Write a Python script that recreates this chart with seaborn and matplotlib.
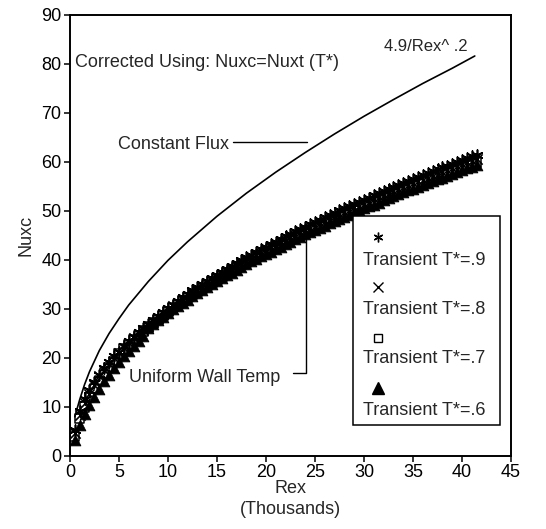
import matplotlib
matplotlib.use("Agg")
import matplotlib.pyplot as plt
import seaborn as sns
import pandas as pd
from matplotlib.patches import Rectangle

sns.set_theme(style="ticks")
plt.rcParams['font.family'] = ['Liberation Sans', 'DejaVu Sans']

# ---- data (Rex in thousands) ----
rex = [0.5, 1.0, 1.5, 2.0, 2.5, 3.0, 3.5, 4.0, 4.5, 5.0, 5.5, 6.0, 6.5, 7.0, 7.5, 8.0,
       8.5, 9.0, 9.5, 10.0, 10.5, 11.0, 11.5, 12.0, 12.5, 13.0, 13.5, 14.0, 14.5, 15.0,
       15.5, 16.0, 16.5, 17.0, 17.5, 18.0, 18.5, 19.0, 19.5, 20.0, 20.5, 21.0, 21.5, 22.0,
       22.5, 23.0, 23.5, 24.0, 24.5, 25.0, 25.5, 26.0, 26.5, 27.0, 27.5, 28.0, 28.5, 29.0,
       29.5, 30.0, 30.5, 31.0, 31.5, 32.0, 32.5, 33.0, 33.5, 34.0, 34.5, 35.0, 35.5, 36.0,
       36.5, 37.0, 37.5, 38.0, 38.5, 39.0, 39.5, 40.0, 40.5, 41.0, 41.5]

nu_t09 = [5.3, 9.2, 11.6, 13.5, 15.1, 16.5, 17.9, 19.1, 20.3, 21.3, 22.4, 23.4, 24.3, 25.3,
          26.1, 27.0, 27.8, 28.6, 29.4, 30.2, 30.9, 31.7, 32.4, 33.1, 33.8, 34.4, 35.1, 35.7,
          36.4, 37.0, 37.6, 38.2, 38.8, 39.4, 39.9, 40.5, 41.1, 41.6, 42.2, 42.7, 43.2, 43.7,
          44.3, 44.8, 45.3, 45.8, 46.3, 46.8, 47.3, 47.7, 48.2, 48.7, 49.1, 49.6, 50.1, 50.5,
          51.0, 51.4, 51.9, 52.3, 52.7, 53.2, 53.6, 54.0, 54.4, 54.8, 55.3, 55.7, 56.1, 56.5,
          56.9, 57.3, 57.7, 58.1, 58.5, 58.9, 59.2, 59.6, 60.0, 60.4, 60.8, 61.1, 61.5]

nu_t08 = [4.6, 8.4, 10.8, 12.7, 14.4, 16.3, 17.6, 18.8, 20.0, 21.0, 22.1, 23.0, 24.0, 24.9,
          25.8, 26.6, 27.4, 28.2, 29.0, 29.7, 30.5, 31.2, 31.9, 32.6, 33.3, 33.9, 34.6, 35.2,
          35.8, 36.4, 37.0, 37.6, 38.2, 38.8, 39.4, 39.9, 40.5, 41.0, 41.5, 42.1, 42.6, 43.1,
          43.6, 44.1, 44.6, 45.1, 45.6, 46.1, 46.6, 47.0, 47.5, 48.0, 48.4, 48.9, 49.3, 49.8,
          50.2, 50.7, 51.1, 51.5, 51.9, 52.4, 52.8, 53.2, 53.6, 54.0, 54.4, 54.9, 55.3, 55.6,
          56.0, 56.4, 56.8, 57.2, 57.6, 58.0, 58.4, 58.7, 59.1, 59.5, 59.9, 60.2, 60.6]

nu_t07 = [4.0, 7.6, 10.0, 12.0, 13.8, 15.4, 16.9, 18.1, 19.3, 20.8, 21.8, 22.8, 23.7, 24.6,
          25.5, 26.3, 27.2, 27.9, 28.7, 29.5, 30.2, 30.9, 31.6, 32.3, 32.9, 33.6, 34.2, 34.8,
          35.5, 36.1, 36.7, 37.3, 37.8, 38.4, 39.0, 39.5, 40.1, 40.6, 41.1, 41.7, 42.2, 42.7,
          43.2, 43.7, 44.2, 44.7, 45.1, 45.6, 46.1, 46.6, 47.0, 47.5, 47.9, 48.4, 48.8, 49.3,
          49.7, 50.2, 50.6, 51.0, 51.4, 51.9, 52.3, 52.7, 53.1, 53.5, 53.9, 54.3, 54.7, 55.1,
          55.5, 55.9, 56.3, 56.7, 57.0, 57.4, 57.8, 58.2, 58.5, 58.9, 59.3, 59.6, 60.0]

nu_t06 = [3.2, 6.3, 8.6, 10.4, 12.1, 13.7, 15.2, 16.6, 17.9, 19.1, 20.3, 21.4, 22.5, 23.5,
          24.5, 26.1, 26.9, 27.7, 28.4, 29.2, 29.9, 30.6, 31.3, 31.9, 32.6, 33.2, 33.9, 34.5,
          35.1, 35.7, 36.3, 36.9, 37.4, 38.0, 38.6, 39.1, 39.7, 40.2, 40.7, 41.2, 41.7, 42.2,
          42.7, 43.2, 43.7, 44.2, 44.7, 45.2, 45.6, 46.1, 46.6, 47.0, 47.5, 47.9, 48.3, 48.8,
          49.2, 49.7, 50.1, 50.5, 50.9, 51.3, 51.7, 52.2, 52.6, 53.0, 53.4, 53.8, 54.2, 54.5,
          54.9, 55.3, 55.7, 56.1, 56.5, 56.8, 57.2, 57.6, 57.9, 58.3, 58.7, 59.0, 59.4]

rex_flux = [0.5, 1.0, 1.5, 2.0, 3.0, 4.0, 5.0, 6.0, 8.0, 10.0, 12.0, 15.0, 18.0, 21.0,
            24.0, 27.0, 30.0, 33.0, 36.0, 39.0, 41.3]
nu_flux = [8.0, 11.5, 14.6, 17.2, 21.5, 25.0, 28.0, 30.8, 35.6, 39.9, 43.7, 48.9, 53.6,
           57.9, 61.9, 65.7, 69.3, 72.7, 76.0, 79.1, 81.6]

series_labels = ["Transient T*=.9", "Transient T*=.8", "Transient T*=.7", "Transient T*=.6"]
x_ticks = [0, 5, 10, 15, 20, 25, 30, 35, 40, 45]
y_ticks = [0, 10, 20, 30, 40, 50, 60, 70, 80, 90]

# ---- figure ----
fig = plt.figure(figsize=(5.46, 5.29), dpi=100)
ax = fig.add_axes([0.128, 0.138, 0.808, 0.834])

flux_df = pd.DataFrame({"Rex": rex_flux, "Nuxc": nu_flux})
sns.lineplot(data=flux_df, x="Rex", y="Nuxc", ax=ax, color="black", lw=1.2)

asterisk = (6, 2, 0)
styles = [
    dict(marker=asterisk, s=60, color="black", linewidth=1.2),
    dict(marker="x", s=55, color="black", linewidth=1.2),
    dict(marker="s", s=45, facecolor="none", edgecolor="black", linewidth=1.1),
    dict(marker="^", s=60, color="black", edgecolor="black", linewidth=0.6),
]
for vals, st in zip([nu_t09, nu_t08, nu_t07, nu_t06], styles):
    d = pd.DataFrame({"Rex": rex, "Nuxc": vals})
    sns.scatterplot(data=d, x="Rex", y="Nuxc", ax=ax, legend=False, zorder=3, **st)

ax.set_xlim(0, 45)
ax.set_ylim(0, 90)
ax.set_xticks(x_ticks)
ax.set_yticks(y_ticks)
ax.tick_params(axis="both", direction="out", length=4, width=1.1, colors="black",
               labelsize=13, pad=2)
for s in ax.spines.values():
    s.set_visible(True)
    s.set_color("black")
    s.set_linewidth(1.4)
ax.set_xlabel("Rex\n(Thousands)", fontsize=13, linespacing=1.3, labelpad=-1)
ax.set_ylabel("Nuxc", fontsize=13, labelpad=5)

fs = 13
ax.text(0.5, 80.2, "Corrected Using: Nuxc=Nuxt (T*)", fontsize=fs, va="center", ha="left")
ax.text(40.6, 83.6, "4.9/Rex^ .2", fontsize=12, va="center", ha="right")
ax.text(4.9, 63.5, "Constant Flux", fontsize=fs, va="center", ha="left")
ax.plot([16.6, 24.2], [64.1, 64.1], color="black", lw=1.0)
ax.text(21.5, 16.1, "Uniform Wall Temp", fontsize=fs, va="center", ha="right")
ax.plot([22.8, 24.1, 24.1], [16.9, 16.9, 44.7], color="black", lw=1.0)

# manual legend (marker above label)
ax.add_patch(Rectangle((0.642, 0.070), 0.333, 0.474, transform=ax.transAxes,
                       facecolor="white", edgecolor="black", lw=1.1, zorder=5))
mk_y = [0.497, 0.383, 0.268, 0.154]
tx_y = [0.444, 0.333, 0.222, 0.104]
leg_styles = [
    dict(marker=asterisk, ms=7, color="black", mew=1.0),
    dict(marker="x", ms=6.5, color="black", mew=1.0),
    dict(marker="s", ms=6, mfc="none", mec="black", mew=1.0),
    dict(marker="^", ms=8, color="black"),
]
for lab, my, ty, st in zip(series_labels, mk_y, tx_y, leg_styles):
    ax.plot([0.698], [my], transform=ax.transAxes, linestyle="none", zorder=6, **st)
    ax.text(0.664, ty, lab, transform=ax.transAxes, fontsize=fs, va="center",
            ha="left", zorder=6)

fig.savefig("out.png", dpi=100, facecolor="white")
